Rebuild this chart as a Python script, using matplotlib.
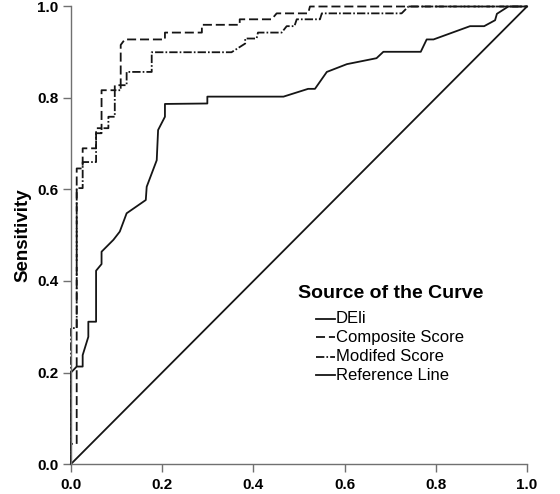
import matplotlib
matplotlib.use("Agg")
import matplotlib.pyplot as plt
from matplotlib.lines import Line2D

plt.rcParams['font.family'] = ['Liberation Sans', 'DejaVu Sans']
plt.rcParams['lines.scale_dashes'] = False

# ROC curve points (1 - specificity, sensitivity)
deli_x = [0, 0, 0.0125, 0.0256, 0.0256, 0.038, 0.038, 0.055, 0.055, 0.067, 0.067, 0.093, 0.107,
          0.122, 0.164, 0.166, 0.188, 0.191, 0.206, 0.206, 0.299, 0.299, 0.466, 0.52, 0.535,
          0.561, 0.605, 0.67, 0.685, 0.767, 0.78, 0.795, 0.875, 0.906, 0.93, 0.934, 0.959, 1.0]
deli_y = [0, 0.2, 0.213, 0.213, 0.238, 0.278, 0.311, 0.311, 0.4225, 0.437, 0.464, 0.49, 0.508,
          0.548, 0.577, 0.606, 0.664, 0.73, 0.759, 0.787, 0.788, 0.803, 0.803, 0.82, 0.82,
          0.857, 0.874, 0.887, 0.901, 0.901, 0.928, 0.928, 0.957, 0.957, 0.97, 0.984, 1.0, 1.0]

comp_x = [0, 0, 0.0125, 0.0125, 0.0256, 0.0256, 0.055, 0.055, 0.067, 0.067, 0.096, 0.096,
          0.109, 0.109, 0.118, 0.206, 0.206, 0.287, 0.287, 0.37, 0.37, 0.44, 0.451, 0.52,
          0.524, 1.0]
comp_y = [0, 0.044, 0.044, 0.646, 0.646, 0.69, 0.69, 0.734, 0.734, 0.817, 0.817, 0.828,
          0.828, 0.916, 0.928, 0.928, 0.943, 0.943, 0.96, 0.96, 0.972, 0.972, 0.985, 0.985,
          1.0, 1.0]

mod_x = [0, 0, 0.0125, 0.0125, 0.0256, 0.0256, 0.055, 0.055, 0.067, 0.067, 0.082, 0.082,
         0.096, 0.096, 0.109, 0.109, 0.122, 0.122, 0.177, 0.177, 0.352, 0.382, 0.382, 0.407,
         0.41, 0.462, 0.473, 0.49, 0.495, 0.546, 0.55, 0.725, 0.74, 1.0]
mod_y = [0, 0.297, 0.297, 0.603, 0.603, 0.66, 0.66, 0.723, 0.723, 0.734, 0.734, 0.759,
         0.759, 0.817, 0.817, 0.828, 0.828, 0.857, 0.857, 0.9, 0.9, 0.919, 0.93, 0.93,
         0.943, 0.943, 0.957, 0.957, 0.972, 0.972, 0.985, 0.985, 1.0, 1.0]

ref_x = [0, 1]
ref_y = [0, 1]

series_names = ["DEli", "Composite Score", "Modifed Score", "Reference Line"]
legend_title = "Source of the Curve"
ticks = [0.0, 0.2, 0.4, 0.6, 0.8, 1.0]
tick_labels = ["0.0", "0.2", "0.4", "0.6", "0.8", "1.0"]

W, H = 560, 494
fig = plt.figure(figsize=(W / 100, H / 100), dpi=100)
ax = fig.add_axes([71 / W, 30 / H, 456 / W, 457.5 / H])

lc = '#151515'
lw = 1.3
styles = [
    dict(linestyle='-'),
    dict(linestyle=(0, (6.5, 2.8))),
    dict(linestyle=(0, (6.0, 1.5, 1.2, 1.5))),
    dict(linestyle='-'),
]
data = [(deli_x, deli_y), (comp_x, comp_y), (mod_x, mod_y), (ref_x, ref_y)]
for (xs, ys), st in zip(data, styles):
    ax.plot(xs, ys, color=lc, lw=lw, clip_on=False, **st)

ax.set_xlim(0, 1)
ax.set_ylim(0, 1)
for s in ['top', 'right']:
    ax.spines[s].set_visible(False)
for s in ['left', 'bottom']:
    ax.spines[s].set_color('#707070')
    ax.spines[s].set_linewidth(1.0)
ax.set_xticks(ticks)
ax.set_yticks(ticks)
ax.set_xticklabels(tick_labels, fontweight='bold', fontsize=11)
ax.set_yticklabels(tick_labels, fontweight='bold', fontsize=11)
ax.tick_params(axis='both', direction='out', length=6, width=1.0, color='#707070',
               labelcolor='black')
ax.tick_params(axis='x', pad=4)
ax.tick_params(axis='y', pad=3)
ax.set_ylabel("Sensitivity", fontweight='bold', fontsize=13.5, labelpad=4)

# Legend drawn manually
fig.text(298 / W, 1 - 293 / H, legend_title, fontweight='bold', fontsize=14,
         ha='left', va='center')
ys_leg = [318.5, 337, 356.5, 375]
for name, st, yp in zip(series_names, styles, ys_leg):
    fy = 1 - yp / H
    fig.add_artist(Line2D([316 / W, 335 / W], [fy, fy], color=lc, lw=lw,
                          transform=fig.transFigure, **st))
    fig.text(336 / W, fy, name, fontsize=12, ha='left', va='center')

fig.savefig("out.png", dpi=100)
